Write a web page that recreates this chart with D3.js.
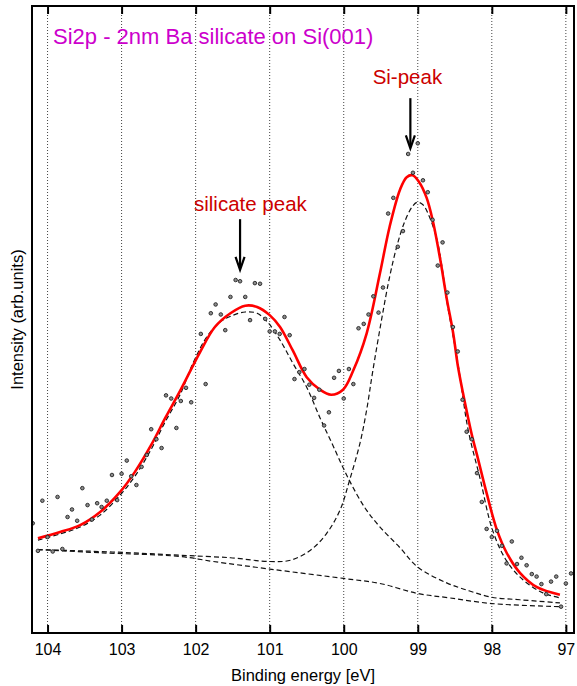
<!DOCTYPE html>
<html lang="en">
<head>
  <meta charset="utf-8">
  <title>Si2p - Ba silicate</title>
  <style>
    body { margin: 0; background: #fff; }
    text { font-family: "Liberation Sans", Arial, Helvetica, sans-serif; }
    .grid line { stroke: #444; stroke-width: 1px; stroke-dasharray: 1,2; }
    .dot { fill: #8c8c8c; stroke: #222; stroke-width: 0.9px; }
    .axis line { stroke: black; stroke-width: 2px; }
    .axis path { display: none; }
    .axis text { font-size: 16px; fill: black; }
  </style>
</head>
<body>
  <script src="https://d3js.org/d3.v7.min.js"></script>
  <svg></svg>
  <script>

// Measured points (binding energy in eV, intensity in arb. units)
var energy = [104.20,104.13,104.07,104.00,103.93,103.865,103.80,103.73,103.67,103.60,103.53,103.46,103.40,103.33,103.27,103.20,103.13,103.06,103.00,102.93,102.87,102.80,102.73,102.66,102.60,102.53,102.46,102.40,102.33,102.26,102.20,102.13,102.06,101.93,101.865,101.795,101.73,101.66,101.60,101.53,101.46,101.40,101.33,101.265,101.20,101.13,101.06,101.00,100.93,100.865,100.80,100.73,100.665,100.60,100.53,100.465,100.40,100.33,100.265,100.20,100.13,100.065,100.00,99.93,99.87,99.80,99.73,99.665,99.60,99.53,99.47,99.40,99.33,99.27,99.20,99.13,99.065,99.00,98.93,98.865,98.80,98.73,98.665,98.60,98.525,98.46,98.395,98.34,98.27,98.20,98.135,98.07,98.00,97.93,97.865,97.80,97.73,97.66,97.60,97.53,97.46,97.395,97.33,97.265,97.20,97.13,97.065,97.00,96.93];
var counts = [17.5,13.1,21.1,15.3,13.0,21.7,13.4,18.5,19.7,17.9,23.1,20.4,18.1,20.7,20.1,21.1,25.2,21.2,25.4,27.5,25.0,23.6,26.5,28.4,32.5,30.9,29.5,37.9,37.4,32.7,37.0,39.1,36.8,47.7,39.7,51.0,52.4,50.8,48.3,53.6,56.3,56.1,53.6,49.9,55.8,55.7,50.1,48.1,48.1,47.7,50.4,47.5,40.5,41.6,42.1,39.6,37.5,38.8,33.1,35.2,40.7,41.8,37.4,42.1,39.7,48.6,49.3,50.8,53.7,51.1,55.1,66.9,69.4,61.6,64.1,76.4,73.4,78.1,72.2,70.3,65.9,58.6,62.3,54.3,48.8,44.9,37.2,32.1,30.9,25.5,20.9,16.6,15.3,16.3,13.9,11.1,14.6,11.0,12.0,10.8,9.4,9.0,7.8,6.2,8.2,9.0,4.2,7.9,9.5];

// Total fit (red)
var fitE = [104.13,103.83,103.56,103.29,103.02,102.82,102.60,102.41,102.21,101.94,101.74,101.53,101.33,101.17,101.00,100.86,100.69,100.50,100.32,100.17,100.01,99.87,99.69,99.51,99.38,99.24,99.15,99.07,98.98,98.88,98.80,98.70,98.61,98.52,98.46,98.39,98.32,98.27,98.20,98.07,97.93,97.80,97.62,97.39,97.08];
var fitI = [15.1,16.1,17.2,19.3,22.5,25.7,30.0,34.3,38.6,44.8,48.8,51.0,52.2,52.0,50.7,48.8,45.1,40.8,38.8,38.0,38.8,41.9,47.8,57.4,64.8,70.7,72.7,73.0,71.9,69.4,65.9,59.8,53.4,47.7,42.7,38.3,34.3,31.6,28.4,22.3,16.4,12.8,9.6,7.3,6.1];

// Silicate component (+ background)
var silE = [104.13,103.83,103.56,103.29,103.02,102.82,102.60,102.41,102.21,102.03,101.84,101.67,101.49,101.33,101.17,101.03,100.86,100.69,100.50,100.32,100.18,99.94,99.71,99.51,99.24,99.00,98.61,98.30,98.00,97.62,97.08];
var silI = [14.8,15.8,16.9,18.8,22.0,25.0,29.3,33.7,38.0,43.2,47.4,49.6,50.7,51.2,51.0,49.6,46.7,43.1,39.2,34.3,30.8,24.7,19.9,16.9,13.6,10.5,8.0,6.7,5.7,5.3,4.8];

// Si component (+ background)
var siE = [104.13,103.56,102.88,102.21,101.53,101.00,100.72,100.45,100.23,100.05,99.92,99.78,99.69,99.61,99.49,99.38,99.28,99.18,99.08,99.01,98.93,98.84,98.74,98.67,98.61,98.53,98.46,98.41,98.32,98.16,97.99,97.80,97.58,97.31,97.08];
var siI = [13.3,13.1,12.8,12.4,12.0,11.4,11.6,13.2,15.9,19.6,24.4,30.3,35.6,41.6,49.9,56.8,61.8,65.5,67.9,68.7,68.3,66.3,62.7,58.2,53.1,47.8,43.2,39.2,32.4,24.7,16.4,11.5,8.5,6.4,5.6];

// Background
var bgE = [104.13,103.29,102.21,101.76,101.00,100.00,99.51,99.00,98.57,98.00,97.08];
var bgI = [13.3,12.8,12.2,11.4,10.2,8.7,7.9,6.3,5.6,4.7,4.2];

var xTicks = [104, 103, 102, 101, 100, 99, 98, 97];

// Peak annotations (label, energy, label intensity, arrow start, arrow tip)
var peakNames = ['silicate peak', 'Si-peak'];
var peakE = [101.40, 99.10];
var labelE = [101.26, 99.14];
var labelI = [67.3, 87.6];
var arrowFrom = [66.0, 85.3];
var arrowTo = [57.9, 77.3];

var width = 577, height = 686;
var margins = {top: 6, right: 3, bottom: 53, left: 32};

var svg = d3.select('svg')
            .attr('width', width)
            .attr('height', height);

var xScale = d3.scaleLinear().domain([104.21, 96.89])
               .range([margins.left, width - margins.right]);
var yScale = d3.scaleLinear().domain([0, 100])
               .range([height - margins.bottom, margins.top]);

var plotW = width - margins.left - margins.right;
var plotH = height - margins.top - margins.bottom;

svg.append('defs').append('clipPath').attr('id', 'plotclip')
   .append('rect')
   .attr('x', margins.left).attr('y', margins.top)
   .attr('width', plotW).attr('height', plotH);

// dotted grid
svg.append('g').attr('class', 'grid')
   .selectAll('line')
   .data(xTicks)
   .enter().append('line')
   .attr('x1', function(d) { return xScale(d); })
   .attr('x2', function(d) { return xScale(d); })
   .attr('y1', margins.top)
   .attr('y2', height - margins.bottom);

var line = d3.line()
   .x(function(d) { return xScale(d[0]); })
   .y(function(d) { return yScale(d[1]); })
   .curve(d3.curveCatmullRom.alpha(0.5));

function pairs(e, v) { return e.map(function(d, i) { return [d, v[i]]; }); }

var plot = svg.append('g').attr('clip-path', 'url(#plotclip)');

// dashed components
[[bgE, bgI], [siE, siI], [silE, silI]].forEach(function(c) {
  plot.append('path')
      .datum(pairs(c[0], c[1]))
      .attr('d', line)
      .attr('fill', 'none')
      .attr('stroke', '#111')
      .attr('stroke-width', 1.2)
      .attr('stroke-dasharray', '5,3');
});

// total fit
plot.append('path')
    .datum(pairs(fitE, fitI))
    .attr('d', line)
    .attr('fill', 'none')
    .attr('stroke', '#ff0000')
    .attr('stroke-width', 2.6);

// data points
plot.selectAll('circle')
    .data(pairs(energy, counts))
    .enter().append('circle')
    .attr('class', 'dot')
    .attr('cx', function(d) { return xScale(d[0]); })
    .attr('cy', function(d) { return yScale(d[1]); })
    .attr('r', 1.8);

// frame
svg.append('rect')
   .attr('x', margins.left).attr('y', margins.top)
   .attr('width', plotW).attr('height', plotH)
   .attr('fill', 'none').attr('stroke', 'black').attr('stroke-width', 2);

// X axis (ticks inside, bottom and top)
svg.append('g')
   .attr('class', 'axis')
   .attr('transform', 'translate(0,' + (height - margins.bottom) + ')')
   .call(d3.axisBottom(xScale).tickValues(xTicks).tickSize(-8).tickPadding(11).tickFormat(d3.format('d')));

svg.append('g')
   .attr('class', 'axis')
   .attr('transform', 'translate(0,' + margins.top + ')')
   .call(d3.axisTop(xScale).tickValues(xTicks).tickSize(-8).tickFormat(''));

svg.append('text')
   .attr('x', margins.left + plotW / 2)
   .attr('y', 681)
   .attr('text-anchor', 'middle')
   .attr('font-size', '16.5px')
   .text('Binding energy [eV]');

svg.append('text')
   .attr('transform', 'translate(23,' + (margins.top + plotH / 2) + ') rotate(-90)')
   .attr('text-anchor', 'middle')
   .attr('font-size', '16.5px')
   .text('Intensity (arb.units)');

// title
svg.append('text')
   .attr('x', 53).attr('y', 44)
   .attr('font-size', '22px')
   .attr('fill', '#cc00cc')
   .text('Si2p - 2nm Ba silicate on Si(001)');

// peak labels and arrows
peakNames.forEach(function(name, i) {
  svg.append('text')
     .attr('x', xScale(labelE[i]))
     .attr('y', yScale(labelI[i]))
     .attr('text-anchor', 'middle')
     .attr('font-size', '20.5px')
     .attr('fill', '#cc0000')
     .text(name);

  var ax = xScale(peakE[i]), y0 = yScale(arrowFrom[i]), y1 = yScale(arrowTo[i]);
  svg.append('line')
     .attr('x1', ax).attr('x2', ax)
     .attr('y1', y0).attr('y2', y1 - 2)
     .attr('stroke', 'black').attr('stroke-width', 2.2);
  svg.append('path')
     .attr('d', 'M' + (ax - 4.5) + ',' + (y1 - 13) + 'L' + ax + ',' + y1 + 'L' + (ax + 4.5) + ',' + (y1 - 13))
     .attr('fill', 'none').attr('stroke', 'black').attr('stroke-width', 2.2);
});

  </script>
</body>
</html>
